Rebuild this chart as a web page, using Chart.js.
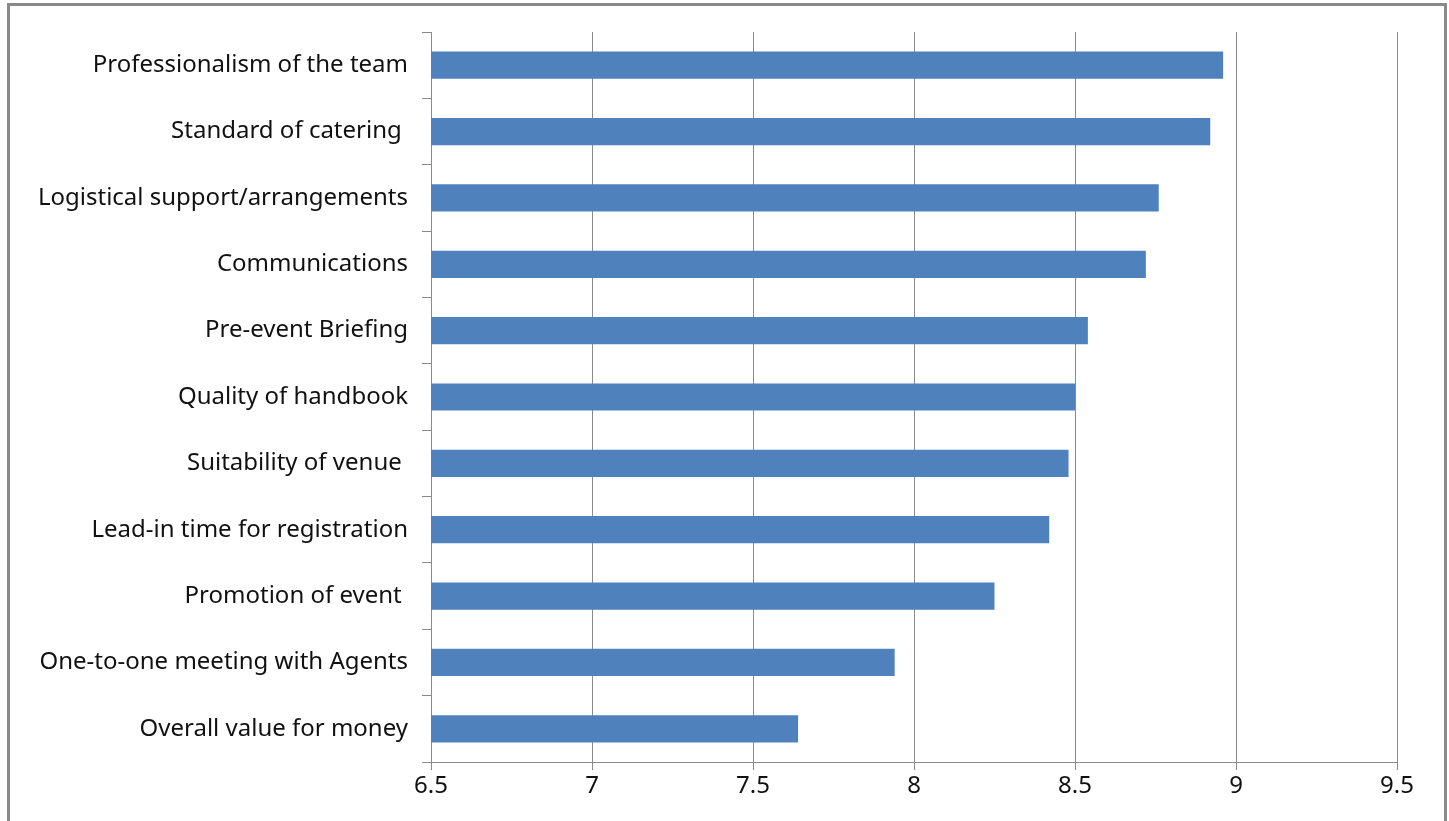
<!DOCTYPE html>
<html>
<head>
<meta charset="utf-8">
<script src="https://cdn.jsdelivr.net/npm/chart.js@4"></script>
<style>
  html, body { margin: 0; padding: 0; background: #fff; overflow: hidden; }
  #wrap { position: relative; width: 1449px; height: 821px; }
  #frame { position: absolute; left: 7px; top: 3px; width: 1434px; height: 840px;
           border: 3px solid #8a8a8a; pointer-events: none; }
  canvas { position: absolute; left: 0; top: 0; }
</style>
</head>
<body>
<div id="wrap">
  <canvas id="chart" width="1449" height="821"></canvas>
  <div id="frame"></div>
</div>
<script>
// satisfaction scores, top to bottom
const categories = [
  'Professionalism of the team',
  'Standard of catering ',
  'Logistical support/arrangements',
  'Communications',
  'Pre-event Briefing',
  'Quality of handbook',
  'Suitability of venue ',
  'Lead-in time for registration',
  'Promotion of event ',
  'One-to-one meeting with Agents',
  'Overall value for money'
];
const scores = [8.96, 8.92, 8.76, 8.72, 8.54, 8.50, 8.48, 8.42, 8.25, 7.94, 7.64];
const xTicks = [6.5, 7, 7.5, 8, 8.5, 9, 9.5];

const ctx = document.getElementById('chart').getContext('2d');
const labelFont = { family: '"Noto Sans", sans-serif', size: 24 };

new Chart(ctx, {
  type: 'bar',
  data: {
    labels: categories,
    datasets: [{
      data: scores,
      backgroundColor: '#4f81bd',
      borderWidth: 0,
      barPercentage: 0.41,
      categoryPercentage: 1
    }]
  },
  options: {
    indexAxis: 'y',
    responsive: false,
    animation: false,
    layout: { padding: { left: 0, right: 52, top: 32, bottom: 19 } },
    plugins: { legend: { display: false }, tooltip: { enabled: false } },
    scales: {
      x: {
        min: xTicks[0],
        max: xTicks[xTicks.length - 1],
        afterBuildTicks: s => { s.ticks = xTicks.map(v => ({ value: v })); },
        afterFit: s => { s.height = 40; },
        border: { color: '#8a8a8a', width: 1 },
        grid: { color: '#8a8a8a', lineWidth: 1, tickLength: 8 },
        ticks: { color: '#111', font: labelFont, padding: 2, maxRotation: 0,
                 callback: v => String(v) }
      },
      y: {
        afterFit: s => { s.width = 431; },
        border: { color: '#8a8a8a', width: 1 },
        grid: { drawOnChartArea: false, color: '#8a8a8a', tickLength: 9, offset: true },
        ticks: { color: '#111', font: labelFont, padding: 14 }
      }
    }
  }
});
</script>
</body>
</html>
